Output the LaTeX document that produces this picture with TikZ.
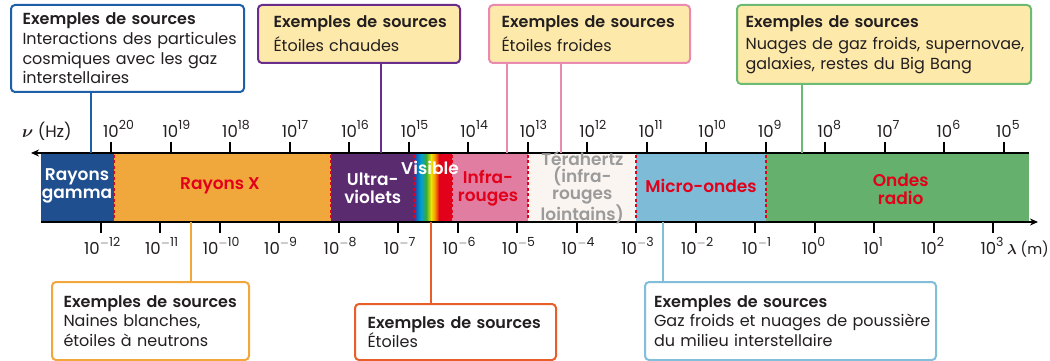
\documentclass[tikz,border=0pt]{standalone}
\usepackage{amsmath}
\usepackage{fontspec}
\setmainfont{Poppins}[BoldFont={Poppins SemiBold}]
\usetikzlibrary{arrows.meta}
\definecolor{gam}{HTML}{1F4F8E}
\definecolor{xr}{HTML}{F0A83C}
\definecolor{uv}{HTML}{5B2B70}
\definecolor{ir}{HTML}{E07DA0}
\definecolor{thz}{HTML}{FBF5F1}
\definecolor{mw}{HTML}{7EBBD7}
\definecolor{rad}{HTML}{65B06D}
\definecolor{lbl}{HTML}{E2001A}
\definecolor{greytxt}{HTML}{9B9B9B}
\definecolor{cream}{HTML}{FDE9AA}
\definecolor{bBlue}{HTML}{1F5FA8}
\definecolor{bPurple}{HTML}{6B2D8B}
\definecolor{bPink}{HTML}{E98BAE}
\definecolor{bGreen}{HTML}{6DBA72}
\definecolor{bOrange}{HTML}{F2A73A}
\definecolor{bRed}{HTML}{E85E2A}
\definecolor{bLight}{HTML}{80BED9}
\definecolor{rv}{HTML}{4B2C8C}
\definecolor{rb}{HTML}{0072BC}
\definecolor{rc}{HTML}{00A0D8}
\definecolor{rg}{HTML}{3AAA35}
\definecolor{ry}{HTML}{F2E500}
\definecolor{ro}{HTML}{F39200}
\definecolor{txt}{HTML}{231F20}
\newcommand\mysup[1]{\raisebox{7.5pt}{\fontsize{12.5}{13}\selectfont #1}}
\tikzset{
  srcbox/.style={draw, line width=2pt, rounded corners=4pt, anchor=north west,
    align=left, inner ysep=0pt, text=txt,
    font=\fontsize{16}{19.7}\selectfont},
  conn/.style={line width=2pt},
  divider/.style={draw=lbl, line width=2pt, dash pattern=on 3pt off 2.5pt},
  axisline/.style={line width=2.5pt, -{Stealth[length=8pt,width=7pt]}},
  tickmark/.style={line width=2pt},
  num/.style={font=\fontsize{16.5}{18}\selectfont, text=txt, inner sep=0pt},
  bandlbl/.style={font=\bfseries\fontsize{17}{18}\selectfont, align=center, inner sep=0pt},
}
\begin{document}
\begin{tikzpicture}[x=1pt,y=-1pt]
\useasboundingbox (0,0) rectangle (1050,361);
% band fills
\fill[gam] (40.7,153) rectangle (114,222);
\fill[xr] (114,153) rectangle (331,222);
\fill[uv] (331,153) rectangle (414,222);
\shade[left color=rv, right color=rb] (414,153) rectangle (417.2,222);
\shade[left color=rb, right color=rc] (417,153) rectangle (421.2,222);
\shade[left color=rc, right color=rg] (421,153) rectangle (426.2,222);
\shade[left color=rg, right color=ry] (426,153) rectangle (431.2,222);
\shade[left color=ry, right color=ro] (431,153) rectangle (435.2,222);
\shade[left color=ro, right color=lbl] (435,153) rectangle (439.2,222);
\fill[lbl] (439,153) rectangle (452,222);
\fill[ir] (452,153) rectangle (528,222);
\fill[thz] (528,153) rectangle (636,222);
\fill[mw] (636,153) rectangle (766,222);
\fill[rad] (766,153) rectangle (1029,222);
% dividers
\foreach \x in {114,331,414,452,528,636,766} \draw[divider] (\x,154.5) -- (\x,220.5);
% axes
\draw[axisline] (1029,153) -- (31,153);
\draw[axisline] (40.7,222) -- (1038,222);
% frequency ticks
\foreach \k [count=\i from 0] in {20,19,...,5} {
  \pgfmathsetmacro{\xx}{111+59.53*\i}
  \draw[tickmark] (\xx,142) -- (\xx,153);
  \node[num, anchor=base] (f\k) at (\xx,137) {10\rlap{\mysup{\k}}};
}
% wavelength ticks
\foreach \k [count=\i from 0] in {12,11,...,1} {
  \pgfmathsetmacro{\xx}{100.7+59.49*\i}
  \draw[tickmark] (\xx,222) -- (\xx,233);
  \node[num, anchor=base] (wm\k) at (\xx+1.5,254) {10\mysup{$-$\k}};
}
\foreach \k [count=\i from 12] in {0,...,3} {
  \pgfmathsetmacro{\xx}{100.7+59.49*\i}
  \draw[tickmark] (\xx,222) -- (\xx,233);
  \node[num, anchor=base] (wp\k) at (\xx-1,254) {10\mysup{\k}};
}
\node[num, anchor=base west] (nu) at (22,137) {$\boldsymbol{\nu}$ (Hz)};
\node[num, anchor=base east, font=\fontsize{14.5}{16}\selectfont] (lam) at (1049,254) {$\boldsymbol{\lambda}$ (m)};
% band labels
\node[bandlbl, text=white] (lgam) at (77,185.5) {Rayons\\gamma};
\node[bandlbl, text=lbl] (lx) at (220,186) {Rayons X};
\node[bandlbl, text=white] (luv) at (372.7,188.5) {Ultra-\\violets};
\node[bandlbl, text=white] (lvis) at (430,168.3) {Visible};
\node[bandlbl, text=lbl] (lir) at (488,188.5) {Infra-\\rouges};
\node[bandlbl, text=greytxt, font=\bfseries\fontsize{17}{17}\selectfont] (lthz) at (582.3,187.5) {Térahertz\\(infra-\\rouges\\lointains)};
\node[bandlbl, text=lbl] (lmw) at (701,186) {Micro-ondes};
\node[bandlbl, text=lbl] (lrad) at (900.7,189.5) {Ondes\\radio};
% source boxes
\node[srcbox, draw=bBlue, fill=white, inner xsep=11.5pt, minimum width=233pt, minimum height=87pt, text width=210pt] (b1) at (10,4)
  {\mbox{\bfseries Exemples de sources}\\ \mbox{Interactions des particules}\\ \mbox{cosmiques avec les gaz}\\ \mbox{interstellaires}};
\node[srcbox, draw=bPurple, fill=cream, inner xsep=15.5pt, minimum width=202pt, minimum height=58pt, text width=171pt] (b2) at (257,4)
  {\mbox{\bfseries Exemples de sources}\\[4pt] \mbox{Étoiles chaudes}};
\node[srcbox, draw=bPink, fill=cream, inner xsep=12.5pt, minimum width=201pt, minimum height=58pt, text width=176pt] (b3) at (488,4)
  {\mbox{\bfseries Exemples de sources}\\[4pt] \mbox{Étoiles froides}};
\node[srcbox, draw=bGreen, fill=cream, inner xsep=8.5pt, minimum width=294pt, minimum height=79pt, text width=277pt] (b4) at (736,4)
  {\mbox{\bfseries Exemples de sources}\\[3pt] \mbox{Nuages de gaz froids, supernovae,}\\ \mbox{galaxies, restes du Big Bang}};
\node[srcbox, draw=bOrange, fill=white, inner xsep=11.5pt, minimum width=197pt, minimum height=78pt, text width=174pt] (b5) at (51,281)
  {\mbox{\bfseries Exemples de sources}\\ \mbox{Naines blanches,}\\ \mbox{étoiles à neutrons}};
\node[srcbox, draw=bRed, fill=white, inner xsep=12.5pt, minimum width=201pt, minimum height=56pt, text width=176pt] (b6) at (354,303)
  {\mbox{\bfseries Exemples de sources}\\ \mbox{Étoiles}};
\node[srcbox, draw=bLight, fill=white, inner xsep=9pt, minimum width=291pt, minimum height=78pt, text width=273pt] (b7) at (644,281)
  {\mbox{\bfseries Exemples de sources}\\ \mbox{Gaz froids et nuages de poussière}\\ \mbox{du milieu interstellaire}};
% connectors
\coordinate (a1) at (90.7,153);
\coordinate (a2) at (380.7,153);
\coordinate (a3) at (507,153);
\coordinate (a4) at (560.7,153);
\coordinate (a5) at (801.7,153);
\coordinate (a6) at (191.3,222);
\coordinate (a7) at (431,222);
\coordinate (a8) at (663.3,222);
\draw[conn, bBlue] (b1.south -| a1) -- (a1);
\draw[conn, bPurple] (b2.south -| a2) -- (a2);
\draw[conn, bPink] (b3.south -| a3) -- (a3);
\draw[conn, bPink] (b3.south -| a4) -- (a4);
\draw[conn, bGreen] (b4.south -| a5) -- (a5);
\draw[conn, bOrange] (a6) -- (a6 |- b5.north);
\draw[conn, bRed] (a7) -- (a7 |- b6.north);
\draw[conn, bLight] (a8) -- (a8 |- b7.north);
\end{tikzpicture}
\end{document}
